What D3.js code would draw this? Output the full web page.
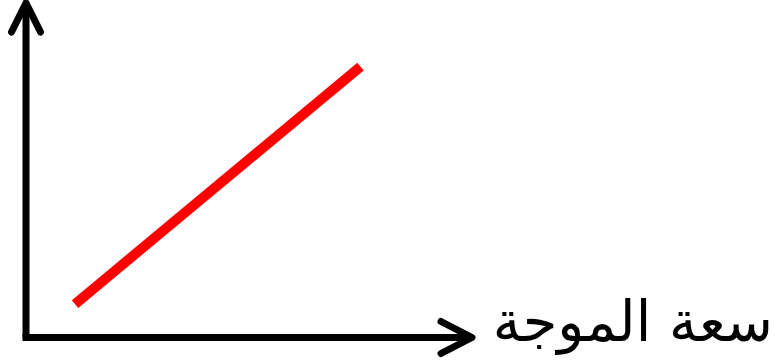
<html>
<head>
<meta charset="utf-8">
<style>
  body { margin: 0; background: #fff; }
  svg { display: block; }
</style>
</head>
<body>
<script src="https://cdn.jsdelivr.net/npm/d3@7"></script>
<script>
var width = 780, height = 364;

// schematic: a straight line rising with amplitude
var axisLabel = "سعة الموجة";
var lineX = [11, 75];   // start / end along x (0..100)
var lineY = [10, 81];   // start / end along y (0..100)

var svg = d3.select("body").append("svg")
    .attr("width", width)
    .attr("height", height);

var x = d3.scaleLinear().domain([0, 100]).range([26, 472]);
var y = d3.scaleLinear().domain([0, 100]).range([337.5, 3]);

var ax = svg.append("g")
    .attr("fill", "none")
    .attr("stroke", "#000")
    .attr("stroke-width", 7)
    .attr("stroke-linecap", "round")
    .attr("stroke-linejoin", "round");

// axis lines
ax.append("path")
    .attr("stroke-linecap", "butt")
    .attr("d", "M" + x(0) + "," + y(0) + "V" + y(100));
ax.append("path")
    .attr("stroke-linecap", "butt")
    .attr("d", "M" + (x(0) - 3.5) + "," + y(0) + "H" + x(100));

// arrow heads
ax.append("path")
    .attr("d", "M" + (x(0) - 14.5) + "," + (y(100) + 29) + "L" + x(0) + "," + y(100) + "L" + (x(0) + 14.5) + "," + (y(100) + 29));
ax.append("path")
    .attr("d", "M" + (x(100) - 31) + "," + (y(0) - 16) + "L" + x(100) + "," + y(0) + "L" + (x(100) - 31) + "," + (y(0) + 16));

// red line
var pts = lineX.map(function(d, i) { return [d, lineY[i]]; });
svg.append("path")
    .datum(pts)
    .attr("fill", "none")
    .attr("stroke", "#ff0000")
    .attr("stroke-width", 10)
    .attr("d", d3.line().x(function(d) { return x(d[0]); }).y(function(d) { return y(d[1]); }));

svg.append("text")
    .attr("x", 773)
    .attr("y", 341)
    .attr("text-anchor", "end")
    .attr("font-family", "DejaVu Sans")
    .attr("font-size", 56)
    .attr("fill", "#000")
    .text(axisLabel);
</script>
</body>
</html>
